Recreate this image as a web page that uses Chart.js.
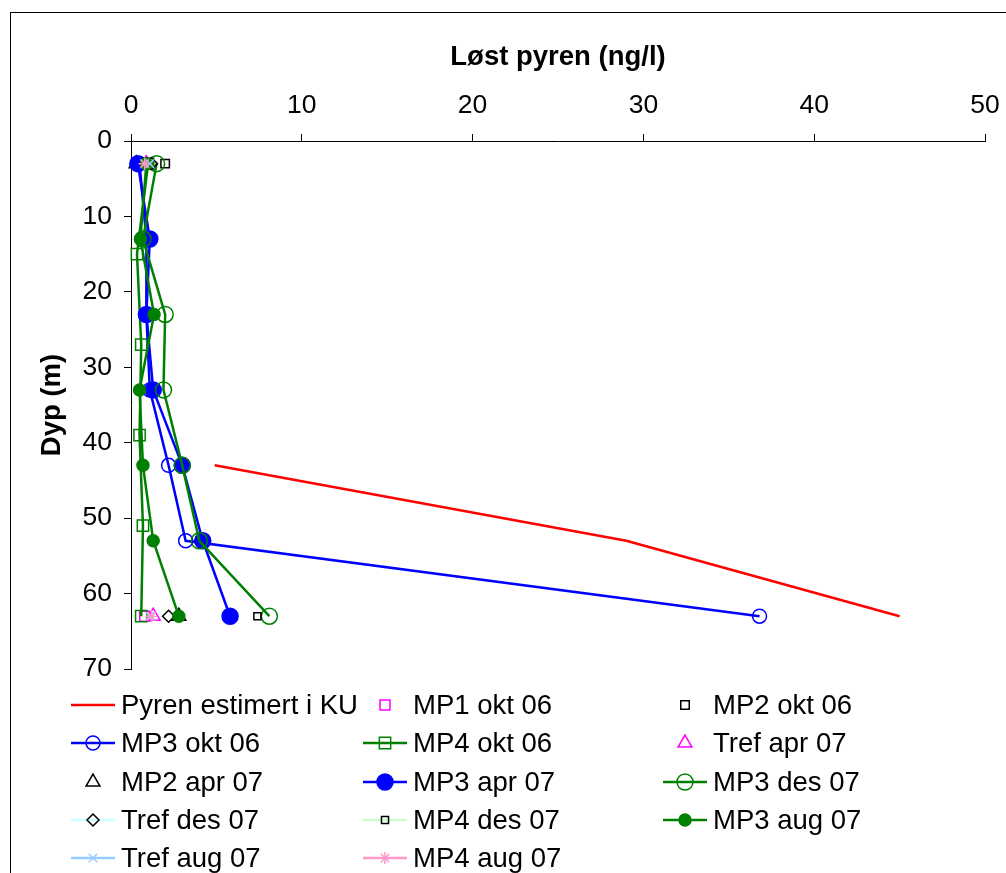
<!DOCTYPE html>
<html><head><meta charset="utf-8">
<script src="https://cdn.jsdelivr.net/npm/chart.js@4.4.1/dist/chart.umd.min.js"></script>
<style>html,body{margin:0;padding:0;background:#fff;} canvas{display:block;}</style>
</head><body>
<canvas id="c" width="1006" height="873"></canvas>
<script>
// ---- data (concentration ng/l vs depth m) ----
const xTicks = [0, 10, 20, 30, 40, 50];
const yTicks = [0, 10, 20, 30, 40, 50, 60, 70];
const xTitle = "Løst pyren (ng/l)";
const yTitle = "Dyp (m)";

const pyrenKU_depth = [43, 53, 63];
const pyrenKU_conc  = [4.9, 29, 45];
const mp1okt06_depth = [3, 63];
const mp1okt06_conc  = [0.7, 0.8];
const mp2okt06_depth = [3];
const mp2okt06_conc  = [2.0];
const mp3okt06_depth = [3, 13, 23, 33, 43, 53, 63];
const mp3okt06_conc  = [0.5, 0.9, 0.9, 1.1, 2.2, 3.2, 36.8];
const mp4okt06_depth = [3, 15, 27, 39, 51, 63];
const mp4okt06_conc  = [1.0, 0.35, 0.6, 0.5, 0.7, 0.6];
const trefapr07_depth = [3, 63];
const trefapr07_conc  = [0.9, 1.3];
const mp2apr07_depth = [3, 63];
const mp2apr07_conc  = [0.3, 2.8];
const mp3apr07_depth = [3, 13, 23, 33, 43, 53, 63];
const mp3apr07_conc  = [0.4, 1.1, 0.9, 1.3, 3.0, 4.2, 5.8];
const mp3des07_depth = [3, 13, 23, 33, 43, 53, 63];
const mp3des07_conc  = [1.5, 0.7, 2.0, 1.9, 3.0, 4.0, 8.1];
const trefdes07_depth = [3, 63];
const trefdes07_conc  = [1.2, 2.2];
const mp4des07_depth = [63];
const mp4des07_conc  = [7.4];
const mp3aug07_depth = [3, 13, 23, 33, 43, 53, 63];
const mp3aug07_conc  = [0.9, 0.55, 1.35, 0.5, 0.7, 1.3, 2.8];
const trefaug07_depth = [3, 63];
const trefaug07_conc  = [1.1, 1.1];
const mp4aug07_depth = [3, 63];
const mp4aug07_conc  = [0.8, 1.2];

const pts = (c, d) => c.map((v, i) => ({x: v, y: d[i]}));

const FONT = "'Liberation Sans', Arial, sans-serif";

// label, data, line colour (null = none), marker style, marker colour, radius, filled, line drawn in plot
const defs = [
  ["Pyren estimert i KU", pts(pyrenKU_conc, pyrenKU_depth), "#FF0000", false, null, 0, false, true],
  ["MP1 okt 06", pts(mp1okt06_conc, mp1okt06_depth), null, "rect", "#FF00FF", 7, false, false],
  ["MP2 okt 06", pts(mp2okt06_conc, mp2okt06_depth), null, "rect", "#000000", 6, false, false],
  ["MP3 okt 06", pts(mp3okt06_conc, mp3okt06_depth), "#0000FF", "circle", "#0000FF", 7, false, true],
  ["MP4 okt 06", pts(mp4okt06_conc, mp4okt06_depth), "#008000", "rect", "#008000", 8, false, true],
  ["Tref apr 07", pts(trefapr07_conc, trefapr07_depth), null, "triangle", "#FF00FF", 8, false, false],
  ["MP2 apr 07", pts(mp2apr07_conc, mp2apr07_depth), null, "triangle", "#000000", 8, false, false],
  ["MP3 apr 07", pts(mp3apr07_conc, mp3apr07_depth), "#0000FF", "circle", "#0000FF", 8, true, true],
  ["MP3 des 07", pts(mp3des07_conc, mp3des07_depth), "#008000", "circle", "#008000", 8, false, true],
  ["Tref des 07", pts(trefdes07_conc, trefdes07_depth), "#CCFFFF", "rectRot", "#000000", 6, false, false],
  ["MP4 des 07", pts(mp4des07_conc, mp4des07_depth), "#CCFFCC", "rect", "#000000", 5, false, false],
  ["MP3 aug 07", pts(mp3aug07_conc, mp3aug07_depth), "#008000", "circle", "#008000", 6, true, true],
  ["Tref aug 07", pts(trefaug07_conc, trefaug07_depth), "#99CCFF", "crossRot", "#99CCFF", 6, false, false],
  ["MP4 aug 07", pts(mp4aug07_conc, mp4aug07_depth), "#FF99CC", "star", "#FF99CC", 6, false, false]
];

const datasets = defs.map((d, i) => ({
  label: d[0],
  data: d[1],
  showLine: d[7],
  borderColor: d[2] || d[4],
  borderWidth: 2.5,
  pointStyle: d[3],
  pointRadius: d[3] ? d[5] : 0,
  pointBorderColor: d[4] || d[2],
  pointBackgroundColor: d[6] ? d[4] : 'rgba(0,0,0,0)',
  pointBorderWidth: 1.5,
  pointHoverRadius: d[5],
  fill: false,
  tension: 0,
  clip: false,
  order: defs.length - i
}));

const framePlugin = {
  id: 'frame',
  beforeDraw(chart) {
    const ctx = chart.ctx;
    ctx.save();
    ctx.fillStyle = '#fff';
    ctx.fillRect(0, 0, chart.width, chart.height);
    ctx.strokeStyle = '#000';
    ctx.lineWidth = 1;
    ctx.strokeRect(10.5, 12.5, 1200, 1200);
    ctx.restore();
  }
};

const legendCols = [121, 413, 713];
const legendRows = [705, 743, 782, 820, 858];
const legendPlugin = {
  id: 'xlLegend',
  afterDraw(chart) {
    const ctx = chart.ctx;
    ctx.save();
    defs.forEach((d, i) => {
      const col = i % 3, row = Math.floor(i / 3);
      const tx = legendCols[col], ty = legendRows[row];
      if (d[2]) {
        ctx.strokeStyle = d[2];
        ctx.lineWidth = 2.5;
        ctx.beginPath();
        ctx.moveTo(tx - 50, ty);
        ctx.lineTo(tx - 6, ty);
        ctx.stroke();
      }
      if (d[3]) {
        ctx.strokeStyle = d[4];
        ctx.fillStyle = d[6] ? d[4] : 'rgba(0,0,0,0)';
        ctx.lineWidth = 1.5;
        Chart.helpers.drawPoint(ctx, {pointStyle: d[3], radius: d[5], rotation: 0, borderWidth: 1.5}, tx - 28, ty);
      }
      ctx.fillStyle = '#000';
      ctx.font = "27.5px " + FONT;
      ctx.textAlign = 'left';
      ctx.textBaseline = 'middle';
      ctx.fillText(d[0], tx, ty + 1);
    });
    ctx.restore();
  }
};

new Chart(document.getElementById('c'), {
  type: 'scatter',
  data: { datasets },
  options: {
    responsive: false,
    animation: false,
    devicePixelRatio: 1,
    layout: { padding: { left: 0, top: 0, right: 21, bottom: 204 } },
    plugins: { legend: { display: false }, tooltip: { enabled: false } },
    scales: {
      x: {
        type: 'linear', position: 'top', min: 0, max: 50,
        afterBuildTicks: s => { s.ticks = xTicks.map(v => ({value: v})); },
        afterFit: s => { s.height = 141; s.paddingLeft = 0; s.paddingRight = 0; },
        ticks: { color: '#000', padding: 12, font: { family: FONT, size: 26.5 } },
        grid: { drawOnChartArea: false, drawTicks: true, tickLength: 7, color: '#000', lineWidth: 1 },
        border: { display: true, color: '#000', width: 1 },
        title: { display: true, text: xTitle, color: '#000', padding: { top: 41, bottom: 0 }, font: { family: FONT, size: 27.5, weight: 'bold' } }
      },
      y: {
        type: 'linear', position: 'left', reverse: true, min: 0, max: 70,
        afterBuildTicks: s => { s.ticks = yTicks.map(v => ({value: v})); },
        afterFit: s => { s.width = 131; s.paddingTop = 0; s.paddingBottom = 0; },
        ticks: { color: '#000', padding: 12, font: { family: FONT, size: 26.5 } },
        grid: { drawOnChartArea: false, drawTicks: true, tickLength: 7, color: '#000', lineWidth: 1 },
        border: { display: true, color: '#000', width: 1 },
        title: { display: true, text: yTitle, color: '#000', padding: { top: 36, bottom: 0 }, font: { family: FONT, size: 27.5, weight: 'bold' } }
      }
    }
  },
  plugins: [framePlugin, legendPlugin]
});
</script>
</body></html>
